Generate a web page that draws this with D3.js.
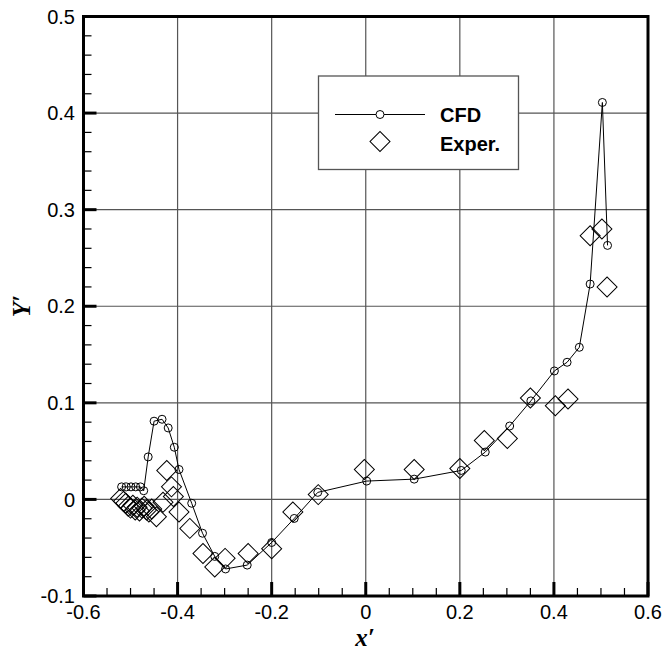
<!DOCTYPE html>
<html>
<head>
<meta charset="utf-8">
<script src="https://cdn.jsdelivr.net/npm/d3@7"></script>
<style>
  body { margin: 0; background: #fff; }
  svg { display: block; }
</style>
</head>
<body>
<div id="main"></div>
<script>
// data
var cfdX = [-0.519, -0.509, -0.499, -0.489, -0.479, -0.472, -0.4625, -0.450, -0.433, -0.420,
            -0.407, -0.397, -0.370, -0.347, -0.321, -0.298, -0.252, -0.200, -0.152, -0.102,
            0.002, 0.103, 0.203, 0.254, 0.306, 0.351, 0.401, 0.428, 0.454, 0.477, 0.503, 0.514];
var cfdY = [0.013, 0.013, 0.013, 0.013, 0.013, 0.009, 0.044, 0.081, 0.083, 0.074,
            0.054, 0.031, -0.004, -0.035, -0.059, -0.072, -0.068, -0.0446, -0.0197, 0.0073,
            0.019, 0.021, 0.030, 0.049, 0.076, 0.102, 0.133, 0.142, 0.1575, 0.223, 0.411, 0.263];

var expX = [-0.521, -0.515, -0.510, -0.505, -0.500, -0.495, -0.490, -0.486, -0.481, -0.476,
            -0.471, -0.466, -0.461, -0.455, -0.445, -0.431, -0.423, -0.413, -0.409, -0.397,
            -0.374, -0.346, -0.321, -0.299, -0.250, -0.200, -0.155, -0.101, -0.003, 0.103,
            0.200, 0.252, 0.301, 0.350, 0.403, 0.430, 0.477, 0.502, 0.513];
var expY = [0.001, -0.002, -0.004, -0.007, -0.009, -0.006, -0.011, -0.008, -0.012, -0.009,
            -0.007, -0.011, -0.013, -0.010, -0.018, -0.003, 0.030, 0.013, 0.003, -0.013,
            -0.030, -0.056, -0.070, -0.061, -0.056, -0.051, -0.013, 0.005, 0.031, 0.031,
            0.032, 0.061, 0.063, 0.105, 0.097, 0.104, 0.273, 0.280, 0.220];

var xTicks = [-0.6, -0.4, -0.2, 0, 0.2, 0.4, 0.6],
    yTicks = [-0.1, 0, 0.1, 0.2, 0.3, 0.4, 0.5];
var legendNames = ["CFD", "Exper."];

// layout
var W = 663, H = 653,
    pLeft = 83.5, pRight = 648, pTop = 16.5, pBottom = 596;

var x = d3.scaleLinear().domain([-0.6, 0.6]).range([pLeft, pRight]),
    y = d3.scaleLinear().domain([-0.1, 0.5]).range([pBottom, pTop]);

var svg = d3.select('#main').append('svg')
    .attr('width', W).attr('height', H);

var tickFont = '"Liberation Sans", Arial, sans-serif';

// grid
var grid = svg.append('g').attr('stroke', '#555').attr('stroke-width', 1.2);
grid.selectAll('.gx').data(xTicks.slice(1, -1)).enter().append('line')
    .attr('x1', d => x(d)).attr('x2', d => x(d))
    .attr('y1', pTop).attr('y2', pBottom);
grid.selectAll('.gy').data(yTicks.slice(1, -1)).enter().append('line')
    .attr('y1', d => y(d)).attr('y2', d => y(d))
    .attr('x1', pLeft).attr('x2', pRight);

// experimental diamonds
var diamond = d3.symbol().type(d3.symbolSquare).size(200);
svg.append('g').selectAll('path').data(expX).enter().append('path')
    .attr('d', diamond)
    .attr('transform', (d, i) => 'translate(' + x(d) + ',' + y(expY[i]) + ') rotate(45)')
    .attr('fill', 'none').attr('stroke', '#000').attr('stroke-width', 1);

// CFD line + circles
var cfd = cfdX.map((d, i) => [d, cfdY[i]]);
svg.append('path').datum(cfd)
    .attr('d', d3.line().x(d => x(d[0])).y(d => y(d[1])))
    .attr('fill', 'none').attr('stroke', '#000').attr('stroke-width', 1);
svg.append('g').selectAll('circle').data(cfd).enter().append('circle')
    .attr('cx', d => x(d[0])).attr('cy', d => y(d[1])).attr('r', 4)
    .attr('fill', 'none').attr('stroke', '#000').attr('stroke-width', 1);

// legend
var lg = svg.append('g');
lg.append('rect').attr('x', 318.5).attr('y', 76).attr('width', 200).attr('height', 93.5)
    .attr('fill', '#fff').attr('stroke', '#555').attr('stroke-width', 1.3);
lg.append('line').attr('x1', 335).attr('x2', 425).attr('y1', 114.5).attr('y2', 114.5)
    .attr('stroke', '#000').attr('stroke-width', 1);
lg.append('circle').attr('cx', 380).attr('cy', 114.5).attr('r', 4)
    .attr('fill', '#fff').attr('stroke', '#000');
lg.append('path').attr('d', diamond)
    .attr('transform', 'translate(380,141.5) rotate(45)')
    .attr('fill', 'none').attr('stroke', '#000');
lg.selectAll('text').data(legendNames).enter().append('text')
    .attr('x', 440).attr('y', (d, i) => 122 + i * 28.5)
    .attr('font-family', tickFont).attr('font-weight', 'bold').attr('font-size', 20)
    .text(d => d);

// ticks (inside, left and bottom only)
var ax = svg.append('g').attr('stroke', '#000');
var xMinor = d3.range(-0.6, 0.6001, 0.05).filter(v => Math.abs(Math.round(v * 5) - v * 5) > 1e-6);
var yMinor = d3.range(-0.1, 0.5001, 0.02).filter(v => Math.abs(Math.round(v * 10) - v * 10) > 1e-6);
ax.selectAll('.xm').data(xMinor).enter().append('line')
    .attr('x1', d => x(d)).attr('x2', d => x(d)).attr('y1', pBottom).attr('y2', pBottom - 8)
    .attr('stroke-width', 1.2);
ax.selectAll('.ym').data(yMinor).enter().append('line')
    .attr('y1', d => y(d)).attr('y2', d => y(d)).attr('x1', pLeft).attr('x2', pLeft + 8)
    .attr('stroke-width', 1.2);
ax.selectAll('.xM').data(xTicks).enter().append('line')
    .attr('x1', d => x(d)).attr('x2', d => x(d)).attr('y1', pBottom).attr('y2', pBottom - 14)
    .attr('stroke-width', 3);
ax.selectAll('.yM').data(yTicks).enter().append('line')
    .attr('y1', d => y(d)).attr('y2', d => y(d)).attr('x1', pLeft).attr('x2', pLeft + 13)
    .attr('stroke-width', 3);

// frame
svg.append('rect').attr('x', pLeft).attr('y', pTop)
    .attr('width', pRight - pLeft).attr('height', pBottom - pTop)
    .attr('fill', 'none').attr('stroke', '#000').attr('stroke-width', 3);

// tick labels (plain hyphen minus, as in the original)
svg.append('g').selectAll('text').data(xTicks).enter().append('text')
    .attr('x', d => x(d)).attr('y', 619)
    .attr('text-anchor', 'middle')
    .attr('font-family', tickFont).attr('font-size', 20)
    .text(d => String(d));
svg.append('g').selectAll('text').data(yTicks).enter().append('text')
    .attr('x', 75).attr('y', d => y(d)).attr('dy', '0.36em')
    .attr('text-anchor', 'end')
    .attr('font-family', tickFont).attr('font-size', 20)
    .text(d => String(d));

// axis titles
var titleFont = '"Liberation Serif", "Times New Roman", serif';
svg.append('text').attr('x', 365).attr('y', 646)
    .attr('text-anchor', 'middle')
    .attr('font-family', titleFont).attr('font-weight', 'bold').attr('font-style', 'italic')
    .attr('font-size', 25)
    .text('x\u2032');
svg.append('text')
    .attr('transform', 'translate(30,306) rotate(-90)')
    .attr('text-anchor', 'middle')
    .attr('font-family', titleFont).attr('font-weight', 'bold').attr('font-style', 'italic')
    .attr('font-size', 25)
    .text('Y\u2032');
</script>
</body>
</html>
